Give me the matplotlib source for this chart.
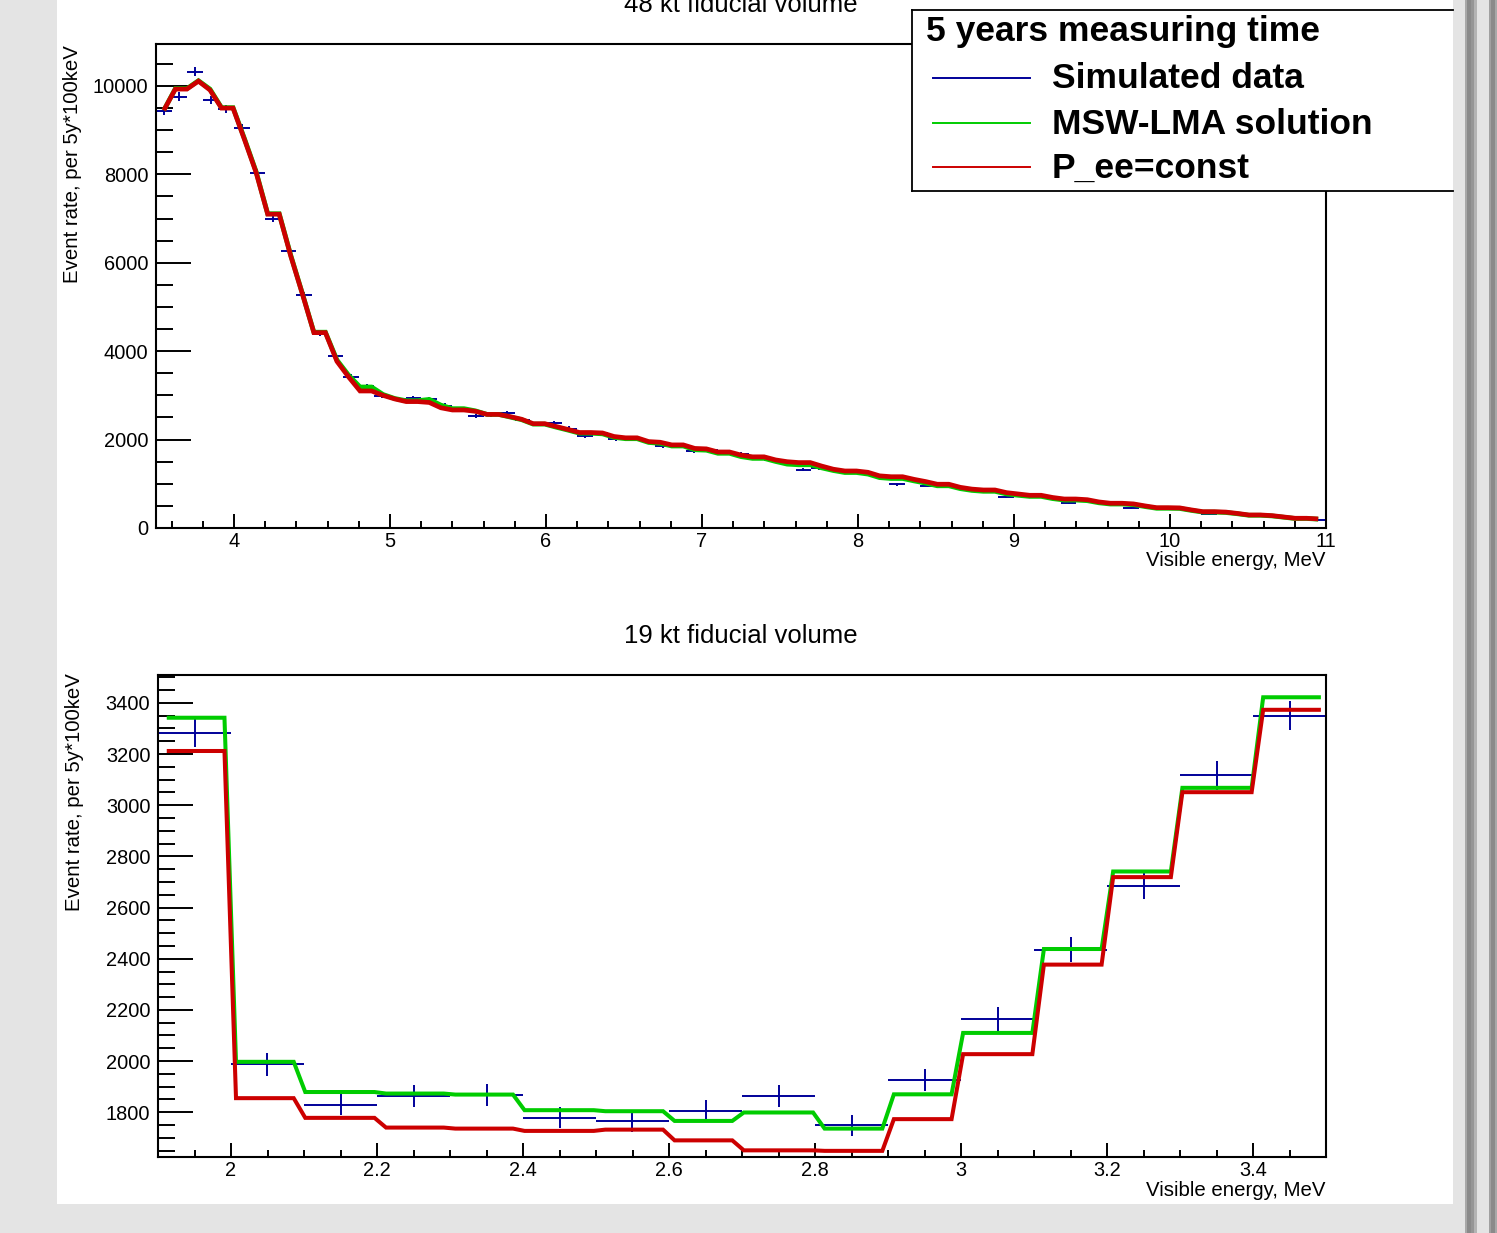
import numpy as np
import matplotlib
matplotlib.use("Agg")
import matplotlib.pyplot as plt
from matplotlib.patches import Rectangle
from matplotlib.lines import Line2D
from matplotlib.ticker import MultipleLocator, FormatStrFormatter

plt.rcParams['font.family'] = ['Liberation Sans', 'DejaVu Sans']

# ---------------- data: top panel (48 kt), 0.1 MeV bins from 3.5 to 11 ----------------
top_bin_lo = 3.5
top_bin_w = 0.1
top_data = [9440, 9760, 10320, 9680, 9480, 9040, 8040, 7000, 6270, 5270,
            4410, 3890, 3420, 3210, 2990, 2920, 2930, 2910, 2770, 2680,
            2530, 2560, 2600, 2450, 2350, 2370, 2250, 2090, 2140, 2010,
            2010, 1960, 1860, 1870, 1740, 1760, 1690, 1670, 1600, 1530,
            1480, 1320, 1350, 1320, 1270, 1230, 1150, 990, 1080, 960,
            970, 900, 860, 830, 710, 740, 720, 680, 575, 620,
            580, 540, 450, 480, 450, 430, 400, 320, 350, 320,
            290, 270, 240, 215, 185]
top_msw = [9450, 9940, 10120, 9930, 9510, 8800, 8060, 7110, 6170, 5310,
           4430, 3800, 3460, 3190, 3020, 2930, 2880, 2910, 2780, 2700,
           2650, 2570, 2510, 2450, 2350, 2280, 2215, 2145, 2130, 2050,
           2020, 1935, 1915, 1855, 1770, 1760, 1690, 1615, 1575, 1505,
           1445, 1430, 1360, 1300, 1255, 1220, 1140, 1120, 1065, 1015,
           955, 890, 850, 830, 770, 740, 715, 665, 632, 618,
           570, 542, 528, 485, 446, 442, 398, 360, 350, 322,
           288, 273, 244, 215, 200]
top_pee = [9450, 9930, 10110, 9910, 9500, 8780, 8040, 7100, 6150, 5300,
           4420, 3770, 3420, 3100, 3000, 2920, 2860, 2840, 2720, 2670,
           2640, 2570, 2520, 2460, 2360, 2295, 2230, 2160, 2150, 2070,
           2040, 1955, 1940, 1880, 1800, 1790, 1720, 1650, 1610, 1540,
           1500, 1480, 1400, 1330, 1290, 1260, 1180, 1160, 1100, 1050,
           990, 920, 880, 860, 800, 770, 740, 690, 656, 640,
           590, 560, 545, 500, 460, 455, 410, 370, 360, 330,
           295, 280, 250, 220, 205]

# ---------------- data: bottom panel (19 kt), 0.1 MeV bins from 1.9 to 3.5 ----------------
bot_bin_lo = 1.9
bot_bin_w = 0.1
bot_data = [3283, 1988, 1830, 1864, 1866, 1779, 1766, 1804,
            1864, 1749, 1925, 2164, 2435, 2685, 3117, 3350]
bot_msw = [3342, 1997, 1879, 1873, 1869, 1808, 1804, 1766,
           1799, 1736, 1870, 2110, 2438, 2741, 3068, 3422]
bot_pee = [3212, 1855, 1778, 1740, 1736, 1727, 1732, 1690,
           1651, 1649, 1773, 2027, 2377, 2719, 3051, 3373]

legend_title = "5 years measuring time"
legend_labels = ["Simulated data", "MSW-LMA solution", "P_ee=const"]

C_BLUE = '#000099'
C_GREEN = '#00cc00'
C_RED = '#cc0000'

W, H = 1497, 1233
fig = plt.figure(figsize=(W / 100, H / 100), dpi=100)
fig.patch.set_facecolor('#e4e4e4')


def rect(x0, y0, x1, y1):
    return [x0 / W, 1 - y1 / H, (x1 - x0) / W, (y1 - y0) / H]


def fx(x):
    return x / W


def fy(y):
    return 1 - y / H


# white canvas
fig.add_artist(Rectangle((fx(57), fy(1204)), (1453 - 57) / W, 1204 / H,
                         transform=fig.transFigure, fc='white', ec='none', zorder=-10))
# right side grey bars
for (x0, x1, c) in [(1465, 1467, '#a8a8a8'), (1467, 1471, '#8a8a8a'), (1471, 1474, '#969696'),
                    (1474, 1477, '#b4b4b4'), (1489, 1491, '#a0a0a0'), (1491, 1495, '#8a8a8a'),
                    (1495, 1497, '#a8a8a8')]:
    fig.add_artist(Rectangle((fx(x0), 0), (x1 - x0) / W, 1, transform=fig.transFigure,
                             fc=c, ec='none', zorder=-9))


def sampled(lo, w, vals, x0, x1, n=100):
    vals = np.asarray(vals, dtype=float)
    xs = np.linspace(x0, x1, n + 1)
    idx = np.clip(np.floor((xs - lo) / w + 1e-9).astype(int), 0, len(vals) - 1)
    return xs, vals[idx]


def style_axes(ax, ymaj, ymin_, xmaj, xmin_):
    for s in ax.spines.values():
        s.set_linewidth(1.5)
        s.set_color('black')
    ax.xaxis.set_major_locator(MultipleLocator(xmaj))
    ax.xaxis.set_minor_locator(MultipleLocator(xmin_))
    ax.yaxis.set_major_locator(MultipleLocator(ymaj))
    ax.yaxis.set_minor_locator(MultipleLocator(ymin_))
    ax.xaxis.set_major_formatter(FormatStrFormatter('%g'))
    ax.yaxis.set_major_formatter(FormatStrFormatter('%g'))
    ax.tick_params(axis='both', which='both', direction='in', top=False, right=False,
                   width=1.4, color='black', labelsize=14.4)
    ax.tick_params(axis='y', which='major', length=25.5, pad=5.5)
    ax.tick_params(axis='y', which='minor', length=12.5)
    ax.tick_params(axis='x', which='major', length=10, pad=3)
    ax.tick_params(axis='x', which='minor', length=5)


def draw_panel(ax, lo, w, data, msw, pee, x0, x1, lw):
    data = np.asarray(data, dtype=float)
    centers = lo + w * (np.arange(len(data)) + 0.5)
    ax.errorbar(centers, data, xerr=w / 2, yerr=np.sqrt(data), fmt='none',
                ecolor=C_BLUE, elinewidth=1.4, capsize=0, zorder=2)
    xs, ys = sampled(lo, w, msw, x0, x1)
    ax.plot(xs, ys, color=C_GREEN, lw=lw, solid_joinstyle='miter', solid_capstyle='butt', zorder=3)
    xs, ys = sampled(lo, w, pee, x0, x1)
    ax.plot(xs, ys, color=C_RED, lw=lw, solid_joinstyle='miter', solid_capstyle='butt', zorder=4)


# ---------------- top panel ----------------
ax1 = fig.add_axes(rect(156, 44, 1326, 528))
draw_panel(ax1, top_bin_lo, top_bin_w, top_data, top_msw, top_pee, 3.55, 10.95, 3.4)
ax1.set_xlim(3.5, 11.0)
ax1.set_ylim(0, 10950)
style_axes(ax1, 2000, 500, 1, 0.2)

# ---------------- bottom panel ----------------
ax2 = fig.add_axes(rect(158, 674.5, 1326, 1157))
draw_panel(ax2, bot_bin_lo, bot_bin_w, bot_data, bot_msw, bot_pee, 1.912, 3.493, 2.9)
ax2.set_xlim(1.9, 3.5)
ax2.set_ylim(1625, 3511)
style_axes(ax2, 200, 50, 0.2, 0.05)

# titles and labels
fig.text(fx(741), fy(5), "48 kt fiducial volume", ha='center', va='center', fontsize=18.5)
fig.text(fx(741), fy(636), "19 kt fiducial volume", ha='center', va='center', fontsize=18.5)
for (xl, yl) in [(1326, 561), (1326, 1190)]:
    fig.text(fx(xl), fy(yl), "Visible energy, MeV", ha='right', va='center', fontsize=14.7)
for (xl, yt) in [(73, 45), (75, 673)]:
    fig.text(fx(xl), fy(yt), "Event rate, per 5y*100keV", ha='center', va='top',
             rotation=90, fontsize=14.7)

# ---------------- legend box ----------------
lg = fig.add_axes(rect(912, 10, 1453, 191), zorder=10)
lg.set_xlim(912, 1453)
lg.set_ylim(191, 10)
lg.set_facecolor('white')
lg.set_xticks([])
lg.set_yticks([])
lg.spines['right'].set_visible(False)
for k in ['left', 'top', 'bottom']:
    lg.spines[k].set_linewidth(1.3)
lg.text(926, 32, legend_title, ha='left', va='center', fontsize=25.5, fontweight='bold')
for lab, col, yy in zip(legend_labels, [C_BLUE, C_GREEN, C_RED], [78, 123, 167]):
    lg.add_line(Line2D([933, 1030], [yy, yy], color=col, lw=1.4))
    lg.text(1052, yy + 1, lab, ha='left', va='center', fontsize=25.5, fontweight='bold')

fig.savefig("out.png", dpi=100, facecolor=fig.get_facecolor())
